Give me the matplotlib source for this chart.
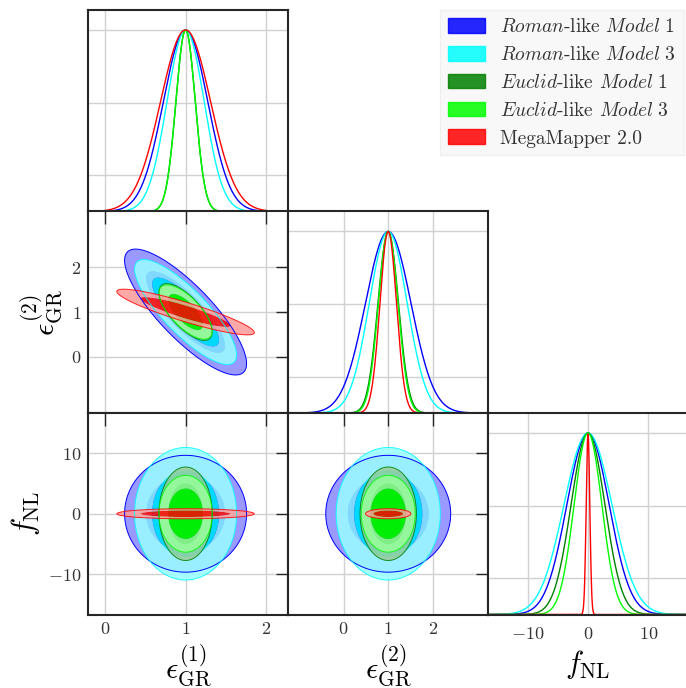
import matplotlib
matplotlib.use("Agg")
import matplotlib.pyplot as plt
import numpy as np
from matplotlib.patches import Patch

plt.rcParams["font.family"] = "serif"
plt.rcParams["font.serif"] = ["cmr10"]
plt.rcParams["mathtext.fontset"] = "cm"
plt.rcParams["axes.formatter.use_mathtext"] = True
plt.rcParams["text.color"] = "0.2"
plt.rcParams["xtick.color"] = "0.15"
plt.rcParams["ytick.color"] = "0.15"
plt.rcParams["xtick.labelcolor"] = "0.2"
plt.rcParams["ytick.labelcolor"] = "0.2"

# parameters
param_labels = [r"$\epsilon_{\rm GR}^{(1)}$", r"$\epsilon_{\rm GR}^{(2)}$", r"$f_{\rm NL}$"]
param_means = [1.0, 1.0, 0.0]
param_lims = [(-0.21, 2.27), (-1.25, 3.24), (-16.6, 16.6)]
param_ticks = [[0, 1, 2], [0, 1, 2], [-10, 0, 10]]

# surveys / models
model_names = [
    r"$\mathit{Roman}$-like $\mathit{Model\ 1}$",
    r"$\mathit{Roman}$-like $\mathit{Model\ 3}$",
    r"$\mathit{Euclid}$-like $\mathit{Model\ 1}$",
    r"$\mathit{Euclid}$-like $\mathit{Model\ 3}$",
    "MegaMapper 2.0",
]
model_colors = ["#0000ff", "#00ffff", "#008000", "#00ff00", "#ff0000"]

# marginal errors and correlations
sigma_e1 = [0.275, 0.23, 0.12, 0.12, 0.31]
sigma_e2 = [0.51, 0.425, 0.23, 0.22, 0.185]
sigma_fnl = [3.5, 3.97, 2.8, 2.3, 0.3]
rho_e1_e2 = [-0.82, -0.82, -0.7, -0.7, -0.9]
rho_e1_fnl = [0.0, 0.0, 0.0, 0.0, 0.0]
rho_e2_fnl = [0.0, 0.0, 0.0, 0.0, 0.0]

# contour radii (inner, outer) in units of sigma
r_inner, r_outer = 1.8, 2.75


def pale(c, f=0.6):
    rgb = np.array(matplotlib.colors.to_rgb(c))
    return tuple(rgb * (1 - f) + f)


def style(ax):
    for s in ax.spines.values():
        s.set_linewidth(1.5)
        s.set_color("0.15")
    ax.grid(True, color="0.82", lw=1.0)
    ax.set_axisbelow(True)


sigmas = [sigma_e1, sigma_e2, sigma_fnl]
rhos = {(0, 1): rho_e1_e2, (0, 2): rho_e1_fnl, (1, 2): rho_e2_fnl}

fig = plt.figure(figsize=(6.86, 6.88), dpi=100)
W = 200 / 686
H = 201.5 / 688

for i in range(3):
    for j in range(i + 1):
        x0 = (88 + 200 * j) / 686
        y0 = 1 - (10 + 201.5 * (i + 1)) / 688
        ax = fig.add_axes([x0, y0, W, H])
        style(ax)
        ax.set_xlim(param_lims[j])
        ax.set_xticks(param_ticks[j])
        if i == j:
            xs = np.linspace(*param_lims[j], 500)
            for k in range(len(model_names)):
                ys = np.exp(-0.5 * ((xs - param_means[j]) / sigmas[j][k]) ** 2)
                ax.plot(xs, ys, color=model_colors[k], lw=1.0)
            ax.set_ylim(0, 1.11)
            ax.set_yticks([0.2, 0.6, 1.0])
            ax.tick_params(left=False, bottom=False, labelleft=False)
        else:
            ax.set_ylim(param_lims[i])
            ax.set_yticks(param_ticks[i])
            gx = np.linspace(*param_lims[j], 500)
            gy = np.linspace(*param_lims[i], 500)
            X, Y = np.meshgrid(gx, gy)
            for k in range(len(model_names)):
                sx, sy = sigmas[j][k], sigmas[i][k]
                r = rhos[(j, i)][k]
                u = (X - param_means[j]) / sx
                v = (Y - param_means[i]) / sy
                d2 = (u * u - 2 * r * u * v + v * v) / (1 - r * r)
                a = 1.0 if k == 0 else 0.85
                c = model_colors[k]
                ax.contourf(X, Y, d2, levels=[-1, r_inner ** 2, r_outer ** 2],
                            colors=[c, pale(c)], alpha=a, antialiased=True)
                ax.contour(X, Y, d2, levels=[r_outer ** 2],
                           colors=[c], linewidths=0.7, alpha=a)
            ax.tick_params(direction="in", top=True, right=True, left=False,
                           bottom=False, length=9, width=1.0)
        ax.tick_params(labelsize=13, pad=5)
        if i < 2:
            ax.tick_params(labelbottom=False)
        if j > 0 or i == 0:
            ax.tick_params(labelleft=False)
        if i == 2:
            ax.set_xlabel(param_labels[j], fontsize=22, labelpad=4)
        if j == 0 and i > 0:
            ax.set_ylabel(param_labels[i], fontsize=22, labelpad=4)

handles = [Patch(facecolor=c, edgecolor=c, alpha=0.85) for c in model_colors]
leg = fig.legend(handles, model_names, loc="upper left",
                 bbox_to_anchor=(440 / 686, 1 - 10 / 688), fontsize=14,
                 frameon=True, fancybox=False, handlelength=1.9,
                 handleheight=0.8, handletextpad=0.8, labelspacing=0.5,
                 borderpad=0.4, borderaxespad=0)
leg.get_frame().set_facecolor("0.97")
leg.get_frame().set_edgecolor("0.93")

fig.savefig("out.png", dpi=100)
